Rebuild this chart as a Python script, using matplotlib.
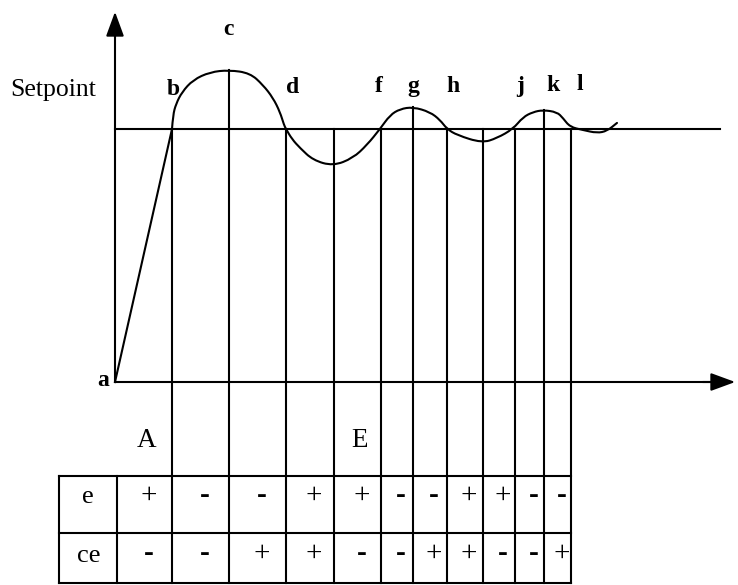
import matplotlib
matplotlib.use("Agg")
import matplotlib.pyplot as plt
from matplotlib.path import Path
from matplotlib.patches import PathPatch

plt.rcParams['font.family'] = ['Liberation Serif', 'DejaVu Serif']

# response curve (time units, setpoint = 1.0)
t_ramp = [0.0, 5.7]
r_ramp = [0.0, 1.0]
t_curve = [5.7, 5.8, 6.1, 6.7, 7.8, 9.5, 11.4, 13.5, 14.8, 15.8, 16.5, 16.9,
           17.1, 17.7, 18.5, 19.8, 21.8, 23.8, 25.2, 26.5, 27.5, 28.5, 29.8,
           31.5, 32.5, 33.2, 34.2, 36.7, 38.2, 39.8, 40.8, 41.8, 42.8, 44.2,
           44.8, 45.5, 46.8, 48.2, 49.2, 50.2]
r_curve = [1.0, 1.055, 1.099, 1.146, 1.194, 1.225, 1.233, 1.221, 1.174, 1.123,
           1.067, 1.016, 1.0, 0.96, 0.925, 0.877, 0.854, 0.885, 0.937, 1.0,
           1.055, 1.079, 1.087, 1.067, 1.036, 1.0, 0.976, 0.945, 0.964, 1.0,
           1.047, 1.067, 1.075, 1.067, 1.043, 1.008, 0.996, 0.984, 0.992, 1.024]

# instants marked with vertical lines and where each line starts
t_marks = [5.7, 11.4, 17.1, 21.9, 26.6, 29.8, 33.2, 36.8, 40.0, 42.9, 45.6]
r_marks = [1.0, 1.233, 1.0, 1.0, 1.0, 1.087, 1.0, 1.0, 1.0, 1.075, 1.0]

setpoint = 1.0
point_labels = ['a', 'b', 'c', 'd', 'f', 'g', 'h', 'j', 'k', 'l']
e_signs = ['+', '-', '-', '+', '+', '-', '-', '+', '+', '-', '-']
ce_signs = ['-', '-', '+', '+', '-', '-', '+', '+', '-', '-', '+']


# layout helpers: picture pixels -> data units
def tx(px):
    return (px - 115) / 10.0


def ry(py):
    return (382 - py) / 253.0


def smooth_path(xs, ys):
    # quadratic bezier through the midpoints, read points used as controls
    verts = [(xs[0], ys[0])]
    codes = [Path.MOVETO]
    for i in range(1, len(xs) - 1):
        verts.append((xs[i], ys[i]))
        verts.append(((xs[i] + xs[i + 1]) / 2, (ys[i] + ys[i + 1]) / 2))
        codes += [Path.CURVE3, Path.CURVE3]
    verts.append((xs[-1], ys[-1]))
    codes.append(Path.LINETO)
    return Path(verts, codes)


fig = plt.figure(figsize=(7.38, 5.85), dpi=100)
ax = fig.add_axes([0, 0, 1, 1])
ax.set_xlim(tx(0), tx(738))
ax.set_ylim(ry(585), ry(0))
ax.axis('off')

lw = 1.5
k = 'black'
head = '-|>,head_length=0.6,head_width=0.22'

# axes with arrow heads
ax.plot([0, 0], [0, ry(30)], color=k, lw=lw)
ax.annotate('', xy=(0, ry(9)), xytext=(0, ry(40)),
            arrowprops=dict(arrowstyle=head, mutation_scale=25, color=k, lw=lw))
ax.plot([0, tx(725)], [0, 0], color=k, lw=lw)
ax.annotate('', xy=(tx(738), 0), xytext=(tx(700), 0),
            arrowprops=dict(arrowstyle=head, mutation_scale=25, color=k, lw=lw))

# setpoint line and response
ax.plot([0, tx(720)], [setpoint, setpoint], color=k, lw=lw)
ax.plot(t_ramp, r_ramp, color=k, lw=lw)
ax.add_patch(PathPatch(smooth_path(t_curve, r_curve), facecolor='none',
                       edgecolor=k, lw=lw, capstyle='round'))

# vertical marker lines down to the table bottom
row_top, row_mid, row_bot = ry(476), ry(533), ry(583)
for t, r in zip(t_marks, r_marks):
    ax.plot([t, t], [r, row_bot], color=k, lw=lw)

# table grid
left, lab_div = tx(59), tx(117)
right = t_marks[-1]
for y in [row_top, row_mid, row_bot]:
    ax.plot([left, right], [y, y], color=k, lw=lw)
for x in [left, lab_div]:
    ax.plot([x, x], [row_top, row_bot], color=k, lw=lw)

ax.text(tx(88), ry(503), 'e', fontsize=19, ha='center', va='baseline')
ax.text(tx(89), ry(562), 'ce', fontsize=19, ha='center', va='baseline')

bounds = [lab_div] + t_marks
for i in range(len(e_signs)):
    xc = (bounds[i] + bounds[i + 1]) / 2 + 0.4
    for s, base in [(e_signs[i], 503), (ce_signs[i], 561)]:
        ax.text(xc, ry(base), s, fontsize=21, ha='center', va='baseline',
                fontweight='bold' if s == '-' else 'normal')

# letters
label_px = [(103, 386), (173, 95), (228, 35), (293, 93), (379, 92),
            (413, 92), (453, 92), (520, 92), (553, 91), (580, 90)]
for s, (px, py) in zip(point_labels, label_px):
    ax.text(tx(px), ry(py), s, fontsize=17, fontweight='bold',
            ha='center', va='baseline')

ax.text(tx(10), ry(96), 'Setpoint', fontsize=18.5, ha='left', va='baseline')
ax.text(tx(147), ry(447), 'A', fontsize=19.5, ha='center', va='baseline')
ax.text(tx(360), ry(447), 'E', fontsize=19.5, ha='center', va='baseline')

fig.savefig('out.png', dpi=100, facecolor='white')
